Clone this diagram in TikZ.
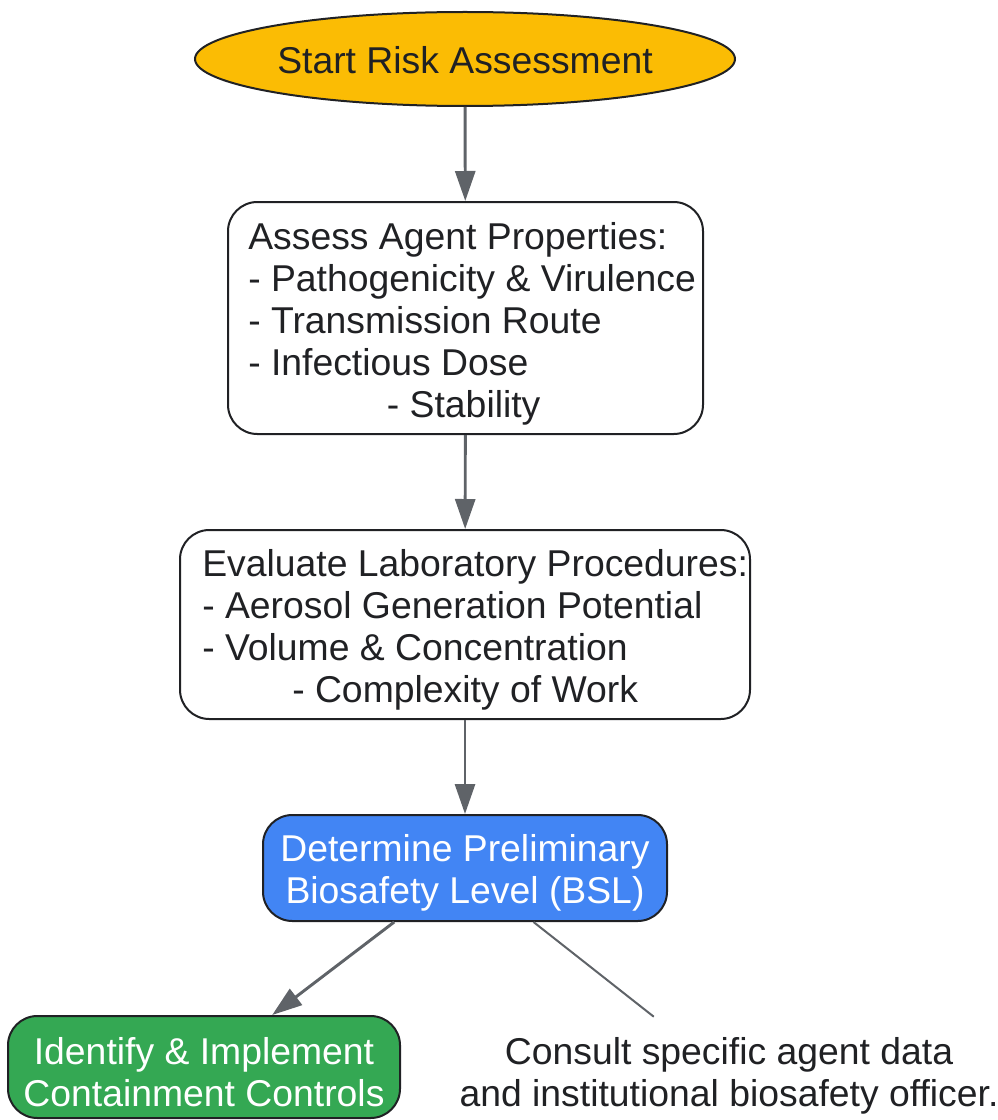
\documentclass[tikz,border=0pt]{standalone}
\usepackage{fontspec}
\setmainfont{Liberation Sans}
\usetikzlibrary{shapes.geometric,arrows.meta}
\definecolor{startY}{HTML}{FBBC04}
\definecolor{bslB}{HTML}{4285F4}
\definecolor{implG}{HTML}{34A853}
\definecolor{arrowG}{HTML}{5F6368}
\definecolor{inkD}{HTML}{202124}
\begin{document}
\begin{tikzpicture}[x=0.75pt,y=-0.75pt,
  txt/.style={font=\fontsize{28}{31.5}\selectfont, text=inkD},
  boxbase/.style={draw=inkD, line width=1.5pt, rounded corners=22pt, inner sep=0pt},
  flow/.style={draw=arrowG, line width=2.2pt, -{Triangle[length=22.5pt,width=15pt]}},
  plainline/.style={draw=arrowG, line width=1.5pt}]
\useasboundingbox (0,0) rectangle (998,1120);

\node[ellipse, draw=inkD, line width=1.5pt, fill=startY, minimum width=405pt, minimum height=70.5pt, inner sep=0pt] (start) at (465,59) {};
\node[txt, inner sep=0pt] (starttxt) at ([yshift=-1pt]start.center) {Start Risk Assessment};

\node[boxbase, fill=white, minimum width=356.25pt, minimum height=174pt] (assess) at (465.5,318) {};
\node[txt, align=left, anchor=west, inner sep=0pt] (assesstxt) at ([xshift=15.75pt,yshift=-4.5pt]assess.west)
  {Assess Agent Properties:\\- Pathogenicity \& Virulence\\- Transmission Route\\- Infectious Dose\\\hspace*{104pt}- Stability};

\node[boxbase, fill=white, minimum width=427.5pt, minimum height=141.75pt] (evaluate) at (465,624.5) {};
\node[txt, align=left, anchor=west, inner sep=0pt] (evaltxt) at ([xshift=17.25pt,yshift=-4pt]evaluate.west)
  {Evaluate Laboratory Procedures:\\- Aerosol Generation Potential\\- Volume \& Concentration\\\hspace*{67.5pt}- Complexity of Work};

\node[boxbase, fill=bslB, minimum width=303pt, minimum height=79.5pt] (bsl) at (465,868) {};
\node[txt, text=white, align=center, inner sep=0pt] (bsltxt) at ([yshift=-3.5pt]bsl.center)
  {Determine Preliminary\\Biosafety Level (BSL)};

\node[boxbase, fill=implG, minimum width=294pt, minimum height=76.5pt] (impl) at (204,1067) {};
\node[txt, text=white, align=center, inner sep=0pt] (impltxt) at ([yshift=-3.5pt]impl.center)
  {Identify \& Implement\\Containment Controls};

\node[txt, align=center, minimum height=88.5pt, inner sep=0pt] (consult) at (729,1076)
  {Consult specific agent data\\and institutional biosafety officer.};

\draw[flow] (start) -- (assess);
\draw[flow] (assess) -- (evaluate);
\draw[flow] (evaluate) -- (bsl);
\draw[flow] (bsl) -- (impl);
\draw[plainline] (bsl) -- (consult);
\end{tikzpicture}
\end{document}
